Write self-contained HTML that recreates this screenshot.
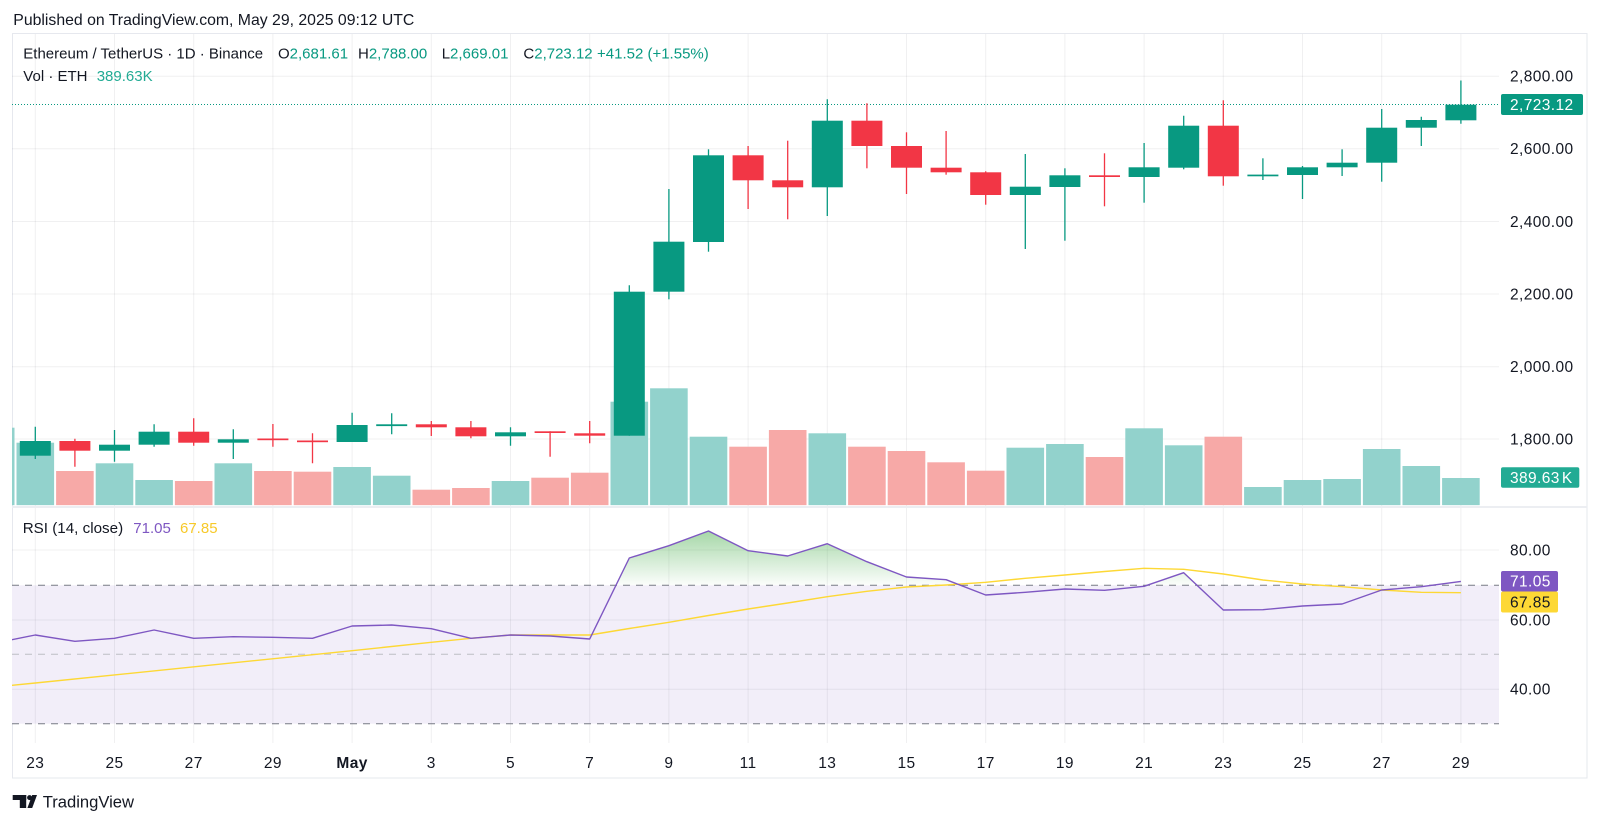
<!DOCTYPE html>
<html>
<head>
<meta charset="utf-8">
<style>
html,body{margin:0;padding:0;background:#fff;}
svg{display:block;}
text{font-family:"Liberation Sans",Arial,sans-serif;fill:#131722;}
</style>
</head>
<body>
<svg width="1600" height="823" viewBox="0 0 1600 823" xmlns="http://www.w3.org/2000/svg">
<defs>
  <clipPath id="cp"><rect x="12" y="33" width="1487" height="472.3"/></clipPath>
  <clipPath id="cr"><rect x="12" y="508" width="1487" height="235"/></clipPath>
  <clipPath id="cg"><rect x="12" y="508" width="1487" height="77.3"/></clipPath>
  <linearGradient id="gg" x1="0" y1="531" x2="0" y2="585.3" gradientUnits="userSpaceOnUse">
    <stop offset="0" stop-color="rgb(76,175,80)" stop-opacity="0.5"/>
    <stop offset="1" stop-color="rgb(76,175,80)" stop-opacity="0.02"/>
  </linearGradient>
</defs>
<rect width="1600" height="823" fill="#fff"/>

<!-- header -->
<text x="13.3" y="25" font-size="15.8">Published on TradingView.com, May 29, 2025 09:12 UTC</text>

<!-- frame -->
<rect x="12.5" y="33.5" width="1574.5" height="744.5" fill="none" stroke="#e6e8ee" stroke-width="1"/>

<!-- RSI band -->
<rect x="12" y="585.3" width="1487" height="138.4" fill="#f2eef9"/>

<!-- vertical grid -->
<g stroke="rgba(42,46,57,0.07)" stroke-width="1">
<line x1="35.3" y1="34" x2="35.3" y2="743"/>
<line x1="114.5" y1="34" x2="114.5" y2="743"/>
<line x1="193.7" y1="34" x2="193.7" y2="743"/>
<line x1="272.9" y1="34" x2="272.9" y2="743"/>
<line x1="352.1" y1="34" x2="352.1" y2="743"/>
<line x1="431.3" y1="34" x2="431.3" y2="743"/>
<line x1="510.5" y1="34" x2="510.5" y2="743"/>
<line x1="589.7" y1="34" x2="589.7" y2="743"/>
<line x1="668.9" y1="34" x2="668.9" y2="743"/>
<line x1="748.1" y1="34" x2="748.1" y2="743"/>
<line x1="827.3" y1="34" x2="827.3" y2="743"/>
<line x1="906.5" y1="34" x2="906.5" y2="743"/>
<line x1="985.7" y1="34" x2="985.7" y2="743"/>
<line x1="1064.9" y1="34" x2="1064.9" y2="743"/>
<line x1="1144.1" y1="34" x2="1144.1" y2="743"/>
<line x1="1223.3" y1="34" x2="1223.3" y2="743"/>
<line x1="1302.5" y1="34" x2="1302.5" y2="743"/>
<line x1="1381.7" y1="34" x2="1381.7" y2="743"/>
<line x1="1460.9" y1="34" x2="1460.9" y2="743"/>
</g>
<!-- horizontal grid -->
<g stroke="rgba(42,46,57,0.07)" stroke-width="1">
<line x1="12" y1="76.3" x2="1499" y2="76.3"/>
<line x1="12" y1="148.8" x2="1499" y2="148.8"/>
<line x1="12" y1="221.5" x2="1499" y2="221.5"/>
<line x1="12" y1="294" x2="1499" y2="294"/>
<line x1="12" y1="366.7" x2="1499" y2="366.7"/>
<line x1="12" y1="439" x2="1499" y2="439"/>
<line x1="12" y1="550" x2="1499" y2="550"/>
<line x1="12" y1="620" x2="1499" y2="620"/>
<line x1="12" y1="689.3" x2="1499" y2="689.3"/>
</g>

<!-- volume -->
<g clip-path="url(#cp)">
<g fill="#92d2cc">
<rect x="-23.1" y="427.7" width="37.6" height="77.6"/>
<rect x="16.5" y="442.7" width="37.6" height="62.6"/>
<rect x="95.7" y="463.3" width="37.6" height="42"/>
<rect x="135.3" y="480" width="37.6" height="25.3"/>
<rect x="214.5" y="463.3" width="37.6" height="42"/>
<rect x="333.3" y="467" width="37.6" height="38.3"/>
<rect x="372.9" y="475.7" width="37.6" height="29.6"/>
<rect x="491.7" y="481" width="37.6" height="24.3"/>
<rect x="610.5" y="401.7" width="37.6" height="103.6"/>
<rect x="650.1" y="388.3" width="37.6" height="117"/>
<rect x="689.7" y="436.7" width="37.6" height="68.6"/>
<rect x="808.5" y="433.3" width="37.6" height="72"/>
<rect x="1006.5" y="447.7" width="37.6" height="57.6"/>
<rect x="1046.1" y="444" width="37.6" height="61.3"/>
<rect x="1125.3" y="428.3" width="37.6" height="77"/>
<rect x="1164.9" y="445.3" width="37.6" height="60"/>
<rect x="1244.1" y="487" width="37.6" height="18.3"/>
<rect x="1283.7" y="480" width="37.6" height="25.3"/>
<rect x="1323.3" y="479" width="37.6" height="26.3"/>
<rect x="1362.9" y="449" width="37.6" height="56.3"/>
<rect x="1402.5" y="466" width="37.6" height="39.3"/>
<rect x="1442.1" y="478" width="37.6" height="27.3"/>
</g>
<g fill="#f7a9a7">
<rect x="56.1" y="471" width="37.6" height="34.3"/>
<rect x="174.9" y="481" width="37.6" height="24.3"/>
<rect x="254.1" y="471" width="37.6" height="34.3"/>
<rect x="293.7" y="471.7" width="37.6" height="33.6"/>
<rect x="412.5" y="489.7" width="37.6" height="15.6"/>
<rect x="452.1" y="488" width="37.6" height="17.3"/>
<rect x="531.3" y="477.7" width="37.6" height="27.6"/>
<rect x="570.9" y="472.7" width="37.6" height="32.6"/>
<rect x="729.3" y="446.7" width="37.6" height="58.6"/>
<rect x="768.9" y="430" width="37.6" height="75.3"/>
<rect x="848.1" y="446.7" width="37.6" height="58.6"/>
<rect x="887.7" y="451" width="37.6" height="54.3"/>
<rect x="927.3" y="462.3" width="37.6" height="43"/>
<rect x="966.9" y="470.7" width="37.6" height="34.6"/>
<rect x="1085.7" y="457" width="37.6" height="48.3"/>
<rect x="1204.5" y="436.7" width="37.6" height="68.6"/>
</g>

<!-- current price dotted line -->
<line x1="12" y1="104.5" x2="1499" y2="104.5" stroke="#089981" stroke-width="1" stroke-dasharray="1 2"/>

<!-- candles green -->
<g stroke="#089981" stroke-width="1.3">
<line x1="35.3" y1="426.7" x2="35.3" y2="459"/>
<line x1="114.5" y1="430" x2="114.5" y2="461.7"/>
<line x1="154.1" y1="424.3" x2="154.1" y2="446.7"/>
<line x1="233.3" y1="429.3" x2="233.3" y2="459"/>
<line x1="352.1" y1="412.7" x2="352.1" y2="442"/>
<line x1="391.7" y1="413.3" x2="391.7" y2="434.3"/>
<line x1="510.5" y1="427.3" x2="510.5" y2="445.7"/>
<line x1="629.3" y1="285.3" x2="629.3" y2="435.7"/>
<line x1="668.9" y1="189" x2="668.9" y2="299.3"/>
<line x1="708.5" y1="149.3" x2="708.5" y2="251.7"/>
<line x1="827.3" y1="99.3" x2="827.3" y2="216"/>
<line x1="1025.3" y1="154" x2="1025.3" y2="249"/>
<line x1="1064.9" y1="168.3" x2="1064.9" y2="240.7"/>
<line x1="1144.1" y1="143" x2="1144.1" y2="202.7"/>
<line x1="1183.7" y1="115.7" x2="1183.7" y2="169.3"/>
<line x1="1262.9" y1="158.3" x2="1262.9" y2="180"/>
<line x1="1302.5" y1="166" x2="1302.5" y2="199"/>
<line x1="1342.1" y1="149.3" x2="1342.1" y2="176"/>
<line x1="1381.7" y1="109" x2="1381.7" y2="181.7"/>
<line x1="1421.3" y1="116.7" x2="1421.3" y2="146"/>
<line x1="1460.9" y1="80.5" x2="1460.9" y2="123.7"/>
</g>
<g fill="#089981">
<rect x="19.8" y="441" width="31" height="14.7"/>
<rect x="99" y="444.7" width="31" height="6"/>
<rect x="138.6" y="431.7" width="31" height="13"/>
<rect x="217.8" y="439.3" width="31" height="3.4"/>
<rect x="336.6" y="425" width="31" height="17"/>
<rect x="376.2" y="424.3" width="31" height="1.8"/>
<rect x="495" y="432.3" width="31" height="4"/>
<rect x="613.8" y="291.7" width="31" height="144"/>
<rect x="653.4" y="241.7" width="31" height="50"/>
<rect x="693" y="155.3" width="31" height="86.7"/>
<rect x="811.8" y="120.7" width="31" height="66.6"/>
<rect x="1009.8" y="186.7" width="31" height="8.3"/>
<rect x="1049.4" y="175.3" width="31" height="11.7"/>
<rect x="1128.6" y="167.3" width="31" height="9.7"/>
<rect x="1168.2" y="125.7" width="31" height="42"/>
<rect x="1247.4" y="174.6" width="31" height="1.7"/>
<rect x="1287" y="167.3" width="31" height="7.7"/>
<rect x="1326.6" y="162.7" width="31" height="4.6"/>
<rect x="1366.2" y="127.7" width="31" height="35"/>
<rect x="1405.8" y="120" width="31" height="7.7"/>
<rect x="1445.4" y="104.7" width="31" height="15.6"/>
</g>
<!-- candles red -->
<g stroke="#f23645" stroke-width="1.3">
<line x1="74.9" y1="438.7" x2="74.9" y2="466.7"/>
<line x1="193.7" y1="418.3" x2="193.7" y2="445.7"/>
<line x1="272.9" y1="424" x2="272.9" y2="446.7"/>
<line x1="312.5" y1="433.3" x2="312.5" y2="463.3"/>
<line x1="431.3" y1="421" x2="431.3" y2="436"/>
<line x1="470.9" y1="421" x2="470.9" y2="438.3"/>
<line x1="550.1" y1="431.3" x2="550.1" y2="456.7"/>
<line x1="589.7" y1="421" x2="589.7" y2="443.3"/>
<line x1="748.1" y1="146" x2="748.1" y2="209"/>
<line x1="787.7" y1="140.7" x2="787.7" y2="219.3"/>
<line x1="866.9" y1="103.3" x2="866.9" y2="168.3"/>
<line x1="906.5" y1="132.3" x2="906.5" y2="194"/>
<line x1="946.1" y1="131" x2="946.1" y2="174.7"/>
<line x1="985.7" y1="171.3" x2="985.7" y2="204.7"/>
<line x1="1104.5" y1="153.3" x2="1104.5" y2="206.3"/>
<line x1="1223.3" y1="100.3" x2="1223.3" y2="185.7"/>
</g>
<g fill="#f23645">
<rect x="59.4" y="441" width="31" height="9.7"/>
<rect x="178.2" y="431.7" width="31" height="11"/>
<rect x="257.4" y="438.5" width="31" height="1.7"/>
<rect x="297" y="440.5" width="31" height="1.7"/>
<rect x="415.8" y="424.3" width="31" height="3"/>
<rect x="455.4" y="427.3" width="31" height="9"/>
<rect x="534.6" y="431.3" width="31" height="1.7"/>
<rect x="574.2" y="433.3" width="31" height="2.4"/>
<rect x="732.6" y="155.3" width="31" height="25"/>
<rect x="772.2" y="180.3" width="31" height="7"/>
<rect x="851.4" y="120.7" width="31" height="25.3"/>
<rect x="891" y="146" width="31" height="21.7"/>
<rect x="930.6" y="167.7" width="31" height="4.6"/>
<rect x="970.2" y="172.3" width="31" height="22.7"/>
<rect x="1089" y="175.3" width="31" height="1.7"/>
<rect x="1207.8" y="125.7" width="31" height="50.6"/>
</g>
</g>

<!-- header text row 2 -->
<text x="23.3" y="58.5" font-size="15">Ethereum / TetherUS · 1D · Binance</text>
<text x="278" y="58.5" font-size="15">O<tspan fill="#089981">2,681.61</tspan></text>
<text x="358" y="58.5" font-size="15">H<tspan fill="#089981">2,788.00</tspan></text>
<text x="441.7" y="58.5" font-size="15">L<tspan fill="#089981">2,669.01</tspan></text>
<text x="523.4" y="58.5" font-size="15">C<tspan fill="#089981">2,723.12</tspan></text>
<text x="597" y="58.5" font-size="15" style="fill:#089981">+41.52 (+1.55%)</text>
<text x="23.3" y="81" font-size="15">Vol · ETH</text>
<text x="96.7" y="81" font-size="15" style="fill:#22ab94">389.63K</text>

<!-- pane separator -->
<rect x="12" y="506" width="1575" height="2" fill="#eceef2"/>

<!-- RSI dashed levels -->
<line x1="12" y1="585.3" x2="1499" y2="585.3" stroke="#787b86" stroke-width="1" stroke-dasharray="7 6"/>
<line x1="12" y1="654.3" x2="1499" y2="654.3" stroke="#bcbec4" stroke-width="1" stroke-dasharray="7 6"/>
<line x1="12" y1="723.7" x2="1499" y2="723.7" stroke="#787b86" stroke-width="1" stroke-dasharray="7 6"/>

<!-- RSI overbought fill -->
<g clip-path="url(#cg)">
<path fill="url(#gg)" d="M-4.3,585.3 L-4.3,643 L35.3,635 L74.9,641.3 L114.5,638.3 L154.1,630 L193.7,638.3 L233.3,636.7 L272.9,637.3 L312.5,638.3 L352.1,626 L391.7,625 L431.3,628.7 L470.9,638.3 L510.5,635 L550.1,636 L589.7,639 L629.3,558 L668.9,545.7 L708.5,531 L748.1,550.7 L787.7,556 L827.3,543.7 L866.9,561.7 L906.5,577 L946.1,579.7 L985.7,595 L1025.3,592.3 L1064.9,589 L1104.5,590.3 L1144.1,586.3 L1183.7,572.7 L1223.3,610 L1262.9,609.7 L1302.5,606 L1342.1,604 L1381.7,590 L1421.3,586.7 L1460.9,581.4 L1460.9,585.3 Z"/>
</g>

<g clip-path="url(#cr)" fill="none" stroke-width="1.4" stroke-linejoin="round">
<polyline stroke="#fdd835" points="-4.3,686.9 35.3,683 352.1,650.7 431.3,642.3 470.9,638.3 510.5,635 550.1,635 589.7,635 629.3,628.5 668.9,622.3 708.5,615.5 748.1,609 787.7,603 827.3,596.7 866.9,591.3 906.5,587 946.1,585 985.7,582.3 1025.3,578.3 1064.9,575 1104.5,571.5 1144.1,568.3 1183.7,569.3 1223.3,574 1262.9,580 1302.5,584 1342.1,586.7 1381.7,590 1421.3,592.3 1460.9,592.7"/>
<polyline stroke="#7e57c2" points="-4.3,643 35.3,635 74.9,641.3 114.5,638.3 154.1,630 193.7,638.3 233.3,636.7 272.9,637.3 312.5,638.3 352.1,626 391.7,625 431.3,628.7 470.9,638.3 510.5,635 550.1,636 589.7,639 629.3,558 668.9,545.7 708.5,531 748.1,550.7 787.7,556 827.3,543.7 866.9,561.7 906.5,577 946.1,579.7 985.7,595 1025.3,592.3 1064.9,589 1104.5,590.3 1144.1,586.3 1183.7,572.7 1223.3,610 1262.9,609.7 1302.5,606 1342.1,604 1381.7,590 1421.3,586.7 1460.9,581.4"/>
</g>

<!-- RSI header -->
<text x="22.7" y="533" font-size="15.2">RSI (14, close)</text>
<text x="133.3" y="533" font-size="15" style="fill:#7e57c2">71.05</text>
<text x="180" y="533" font-size="15" style="fill:#f7c929">67.85</text>

<!-- price axis labels -->
<g font-size="15.5" letter-spacing="0.4">
<text x="1510" y="81.6">2,800.00</text>
<text x="1510" y="154.1">2,600.00</text>
<text x="1510" y="226.8">2,400.00</text>
<text x="1510" y="299.3">2,200.00</text>
<text x="1510" y="372">2,000.00</text>
<text x="1510" y="444.3">1,800.00</text>
<text x="1510" y="555.5">80.00</text>
<text x="1510" y="625.3">60.00</text>
<text x="1510" y="694.6">40.00</text>
</g>

<!-- price label boxes -->
<rect x="1501" y="94" width="82" height="21" rx="2" fill="#089981"/>
<text x="1510" y="110" font-size="15.5" letter-spacing="0.4" style="fill:#fff">2,723.12</text>
<rect x="1501" y="467.3" width="78.3" height="20.4" rx="2" fill="#22ab94"/>
<text x="1510" y="483" font-size="15.5" letter-spacing="0.4" style="fill:#fff">389.63<tspan dx="2">K</tspan></text>
<rect x="1501" y="571" width="57" height="20.5" rx="2" fill="#7e57c2"/>
<text x="1510" y="586.6" font-size="15.5" letter-spacing="0.4" style="fill:#fff">71.05</text>
<rect x="1501" y="591.5" width="57" height="21" rx="2" fill="#fdd835"/>
<text x="1510" y="607.5" font-size="15.5" letter-spacing="0.4" style="fill:#131722">67.85</text>

<!-- date labels -->
<g font-size="15.5" letter-spacing="0.4" text-anchor="middle">
<text x="35.3" y="768">23</text>
<text x="114.5" y="768">25</text>
<text x="193.7" y="768">27</text>
<text x="272.9" y="768">29</text>
<text x="352.1" y="768" font-weight="bold">May</text>
<text x="431.3" y="768">3</text>
<text x="510.5" y="768">5</text>
<text x="589.7" y="768">7</text>
<text x="668.9" y="768">9</text>
<text x="748.1" y="768">11</text>
<text x="827.3" y="768">13</text>
<text x="906.5" y="768">15</text>
<text x="985.7" y="768">17</text>
<text x="1064.9" y="768">19</text>
<text x="1144.1" y="768">21</text>
<text x="1223.3" y="768">23</text>
<text x="1302.5" y="768">25</text>
<text x="1381.7" y="768">27</text>
<text x="1460.9" y="768">29</text>
</g>

<!-- TradingView logo -->
<g fill="#131722">
<rect x="12.7" y="795" width="13.5" height="5"/>
<rect x="19.8" y="795" width="6.4" height="13"/>
<circle cx="29.6" cy="797.6" r="2.5"/>
<polygon points="27.4,808 32.2,808 37,795 32.2,795"/>
</g>
<text x="42.7" y="807.3" font-size="16.6">TradingView</text>
</svg>
</body>
</html>
